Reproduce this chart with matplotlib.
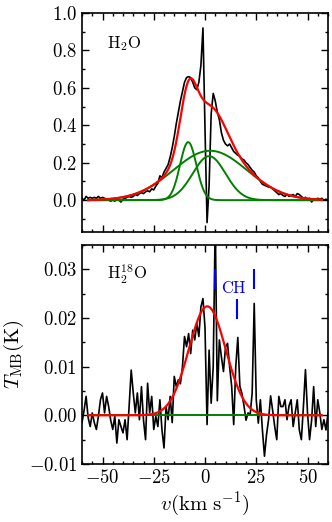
import numpy as np
import matplotlib
matplotlib.use('Agg')
import matplotlib.pyplot as plt
from matplotlib.ticker import MultipleLocator, FuncFormatter

plt.rcParams['font.family'] = 'serif'
plt.rcParams['font.serif'] = ['cmr10']
plt.rcParams['mathtext.fontset'] = 'cm'
plt.rcParams['axes.unicode_minus'] = False

# velocity channels, km/s (1 km/s resolution)
velocity = np.arange(-60, 61, 1)

# H2O spectrum, T_MB in K
h2o_spec = [
    0.01, 0.00, 0.02, 0.01, 0.015, 0.01, 0.015, 0.01, 0.02, 0.01, 0.015,
    0.01, 0.005, 0.0, -0.005, 0.0, -0.005, 0.005, 0.0, -0.01, 0.005,
    0.01, 0.015, 0.02, 0.015, 0.02, 0.03, 0.025, 0.035, 0.04, 0.035,
    0.045, 0.05, 0.045, 0.06, 0.055, 0.075, 0.09, 0.13, 0.12, 0.15,
    0.17, 0.19, 0.23, 0.28, 0.34, 0.41, 0.47, 0.53, 0.58, 0.63,
    0.655, 0.66, 0.655, 0.63, 0.60, 0.59, 0.63, 0.72, 0.92, 0.38,
    -0.12, 0.08, 0.46, 0.57, 0.53, 0.47, 0.43, 0.36, 0.32, 0.30,
    0.29, 0.30, 0.28, 0.26, 0.25, 0.24, 0.235, 0.22, 0.215, 0.20,
    0.19, 0.175, 0.16, 0.15, 0.13, 0.12, 0.10, 0.085, 0.08, 0.075,
    0.07, 0.07, 0.06, 0.05, 0.04, 0.03, 0.035, 0.025, 0.02, 0.03,
    0.02, 0.025, 0.03, 0.02, 0.035, 0.03, 0.02, 0.01, 0.015, 0.0,
    0.01, -0.01, 0.005, 0.0, 0.01, 0.005, 0.01, 0.0, 0.005, 0.0,
]

# H2-18O spectrum, T_MB in mK
h2o18_spec_mk = [
    -1.5, 1.0, 3.9, -0.5, -2.3, 0.5, -1.5, -2.9, -0.2, 3.2, 4.6,
    0.5, 3.9, 1.8, -1.0, -2.9, -0.2, -5.7, -0.9, -2.3, -3.6,
    -0.9, -5.0, 2.0, 9.3, 4.6, 0.5, 4.6, -0.9, 5.9, -1.0,
    -5.0, 6.6, 0.5, 3.9, -2.9, -0.2, -2.3, 3.2, -3.0, -6.7,
    1.8, -0.9, 3.9, -1.5, 8.0, 5.9, 7.3, 6.5, 10.0, 16.2,
    14.1, 16.8, 12.7, 17.5, 15.5, 18.9, 16.2, 22.3, 24.0, 18.0,
    -1.9, 13.4, 2.5, 10.0, 40.0, 3.0, 15.5, 12.0, 9.0, 14.0,
    14.8, 10.0, 6.0, -1.9, 10.0, 16.0, 6.0, 4.5, 2.0, -1.0,
    0.5, 0.0, 4.6, 23.0, 3.2, -1.6, 3.2, -3.0, -8.4, -4.0,
    -0.9, 4.0, 1.0, -2.3, -5.0, 3.9, 1.8, 1.8, 3.2, -0.9,
    2.0, 3.2, -2.3, 0.5, 3.2, -3.0, -5.0, 1.8, 9.4, 0.5,
    -5.0, -1.0, 5.9, -2.3, 3.2, 0.5, -2.9, -0.9, -3.0, 0.5,
]

# gaussian fit components (amplitude K, centre km/s, sigma km/s)
h2o_amp = [0.31, 0.235, 0.264]
h2o_center = [-8.2, 2.0, 2.5]
h2o_sigma = [4.0, 8.0, 18.0]

h2o18_amp = [0.0224]
h2o18_center = [1.1]
h2o18_sigma = [9.0]

fit_vmin, fit_vmax = -57, 57
baseline = 0.0

# CH hyperfine markers
ch_velocity = [4.8, 15.7, 23.7]
ch_low = [0.0259, 0.0198, 0.0259]
ch_high = [0.0301, 0.0240, 0.0301]


def gaussian(v, amp, cen, sig):
    return amp * np.exp(-0.5 * ((v - cen) / sig) ** 2)


def style_axis(ax, ymajor, yminor, yfmt):
    ax.set_xlim(-60, 60)
    ax.xaxis.set_major_locator(MultipleLocator(25))
    ax.xaxis.set_minor_locator(MultipleLocator(5))
    ax.yaxis.set_major_locator(MultipleLocator(ymajor))
    ax.yaxis.set_minor_locator(MultipleLocator(yminor))
    ax.yaxis.set_major_formatter(FuncFormatter(lambda y, p: r'$%s$' % (yfmt % y)))
    ax.xaxis.set_major_formatter(FuncFormatter(lambda x, p: r'$%d$' % x))
    ax.tick_params(which='both', direction='in', top=True, right=True,
                   labelsize=13.5, width=1.0)
    ax.tick_params(which='major', length=5)
    ax.tick_params(which='minor', length=2.5)
    for s in ax.spines.values():
        s.set_linewidth(1.2)


def main():
    fig = plt.figure(figsize=(3.32, 5.22), dpi=100)
    ax1 = fig.add_axes([0.247, 0.5556, 0.741, 0.4195])
    ax2 = fig.add_axes([0.247, 0.1111, 0.741, 0.4195])

    vfit = np.linspace(fit_vmin, fit_vmax, 600)

    # top panel: H2O
    ax1.plot(velocity, h2o_spec, color='black', lw=1.2, zorder=2)
    total = np.zeros_like(vfit)
    for a, c, s in zip(h2o_amp, h2o_center, h2o_sigma):
        comp = gaussian(vfit, a, c, s)
        total += comp
        ax1.plot(vfit, comp, color='green', lw=1.4, zorder=3)
    ax1.plot(vfit, total, color='red', lw=1.6, zorder=4)
    style_axis(ax1, 0.2, 0.1, '%.1f')
    ax1.set_ylim(-0.17, 1.0)
    ax1.tick_params(labelbottom=False)
    ax1.text(0.10, 0.84, r'$\mathrm{H_2O}$', transform=ax1.transAxes, fontsize=12)

    # bottom panel: H2-18O
    h2o18_spec = np.array(h2o18_spec_mk) / 1000.0
    ax2.plot(velocity, h2o18_spec, color='black', lw=1.2, zorder=2)
    fit18 = np.zeros_like(vfit)
    for a, c, s in zip(h2o18_amp, h2o18_center, h2o18_sigma):
        fit18 += gaussian(vfit, a, c, s)
    ax2.hlines(baseline, fit_vmin, fit_vmax, color='green', lw=1.4, zorder=3)
    ax2.plot(vfit, fit18, color='red', lw=1.6, zorder=4)
    ax2.vlines(ch_velocity, ch_low, ch_high, color='blue', lw=1.5, zorder=5)
    ax2.text(8.0, 0.0251, 'CH', color='blue', fontsize=12)
    style_axis(ax2, 0.01, 0.005, '%.2f')
    ax2.set_ylim(-0.01, 0.035)
    ax2.text(0.10, 0.84, r'$\mathrm{H_2^{18}O}$', transform=ax2.transAxes, fontsize=12)
    ax2.set_xlabel(r'$v\mathrm{(km\ s^{-1})}$', fontsize=15, labelpad=2)
    ax2.set_ylabel(r'$T_\mathrm{MB}\mathrm{(K)}$', fontsize=15, labelpad=2)

    fig.savefig('out.png', dpi=100)


if __name__ == "__main__":
    main()
